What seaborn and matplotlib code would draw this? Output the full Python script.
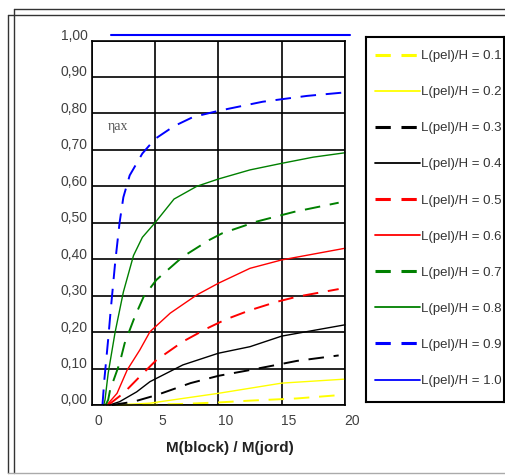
import numpy as np
import pandas as pd
import matplotlib
matplotlib.use("Agg")
import matplotlib.pyplot as plt
import matplotlib.transforms as mtransforms
from matplotlib.lines import Line2D
import seaborn as sns

# Data: eta vs M(block)/M(jord) for different L(pel)/H
x_01 = [2.0, 5.0, 7.2, 10.0, 12.5, 16.2, 19.5]
y_01 = [0.0, 0.001, 0.003, 0.007, 0.012, 0.018, 0.027]
x_02 = [1.8, 3.0, 4.6, 7.2, 10.0, 15.0, 20.0]
y_02 = [0.0, 0.002, 0.005, 0.018, 0.032, 0.060, 0.071]
x_03 = [1.6, 3.3, 5.1, 7.8, 10.0, 12.2, 14.6, 16.2, 19.5]
y_03 = [0.0, 0.009, 0.027, 0.060, 0.080, 0.094, 0.110, 0.121, 0.136]
x_04 = [1.4, 2.2, 3.55, 4.6, 7.2, 10.0, 12.5, 15.0, 20.0]
y_04 = [0.0, 0.009, 0.036, 0.064, 0.110, 0.142, 0.160, 0.189, 0.220]
x_05 = [1.3, 2.5, 3.8, 5.1, 7.2, 9.1, 10.6, 12.5, 14.6, 16.2, 19.5]
y_05 = [0.0, 0.032, 0.078, 0.123, 0.174, 0.210, 0.235, 0.260, 0.283, 0.297, 0.318]
x_06 = [1.2, 2.0, 2.8, 3.8, 4.6, 6.2, 8.3, 10.0, 12.5, 15.0, 20.0]
y_06 = [0.0, 0.032, 0.096, 0.151, 0.201, 0.252, 0.302, 0.334, 0.375, 0.398, 0.430]
x_07 = [1.1, 1.3, 1.45, 2.2, 2.6, 3.4, 4.1, 5.1, 7.2, 9.3, 10.3, 13.0, 16.0, 19.5]
y_07 = [0.0, 0.014, 0.041, 0.114, 0.169, 0.242, 0.297, 0.343, 0.407, 0.453, 0.471, 0.503, 0.530, 0.555]
x_08 = [0.95, 1.05, 1.3, 1.85, 2.5, 3.3, 4.0, 5.0, 6.5, 8.3, 10.0, 12.5, 15.0, 17.5, 20.0]
y_08 = [0.0, 0.014, 0.087, 0.200, 0.310, 0.410, 0.460, 0.500, 0.565, 0.600, 0.620, 0.645, 0.663, 0.680, 0.692]
x_09 = [0.85, 1.0, 1.3, 1.5, 1.85, 2.2, 2.5, 3.0, 4.0, 5.0, 6.5, 8.0, 10.0, 13.5, 17.0, 19.8]
y_09 = [0.0, 0.07, 0.18, 0.26, 0.39, 0.50, 0.57, 0.63, 0.69, 0.73, 0.765, 0.79, 0.807, 0.832, 0.848, 0.857]
x_10 = [1.5, 20.4]
y_10 = [1.015, 1.015]

series_x = [x_01, x_02, x_03, x_04, x_05, x_06, x_07, x_08, x_09, x_10]
series_y = [y_01, y_02, y_03, y_04, y_05, y_06, y_07, y_08, y_09, y_10]
labels = ["L(pel)/H = 0.1", "L(pel)/H = 0.2", "L(pel)/H = 0.3", "L(pel)/H = 0.4",
          "L(pel)/H = 0.5", "L(pel)/H = 0.6", "L(pel)/H = 0.7", "L(pel)/H = 0.8",
          "L(pel)/H = 0.9", "L(pel)/H = 1.0"]
colors = ["#ffff00", "#ffff00", "#000000", "#000000", "#ff0000", "#ff0000",
          "#008000", "#008000", "#0000ff", "#0000ff"]
dashed = [True, False] * 5

x_ticks = [0, 5, 10, 15, 20]
y_ticks = [0.0, 0.1, 0.2, 0.3, 0.4, 0.5, 0.6, 0.7, 0.8, 0.9, 1.0]
y_ticklabels = ["0,00", "0,10", "0,20", "0,30", "0,40", "0,50",
                "0,60", "0,70", "0,80", "0,90", "1,00"]

sns.set_style("white")
plt.rcParams['font.family'] = ['Liberation Sans', 'DejaVu Sans']

W, H = 506, 475
fig = plt.figure(figsize=(W / 100, H / 100), dpi=100)
ax = fig.add_axes([91.7 / W, 1 - 405 / H, (345 - 91.7) / W, (405 - 40.5) / H])

dash_style = (0, (8, 5))
for xs, ys, c, d in zip(series_x, series_y, colors, dashed):
    df = pd.DataFrame({"x": xs, "y": ys})
    sns.lineplot(data=df, x="x", y="y", ax=ax, color=c, estimator=None, sort=False,
                 linewidth=1.4 if d else 1.0,
                 linestyle=dash_style if d else "-", clip_on=False)
ax.lines[-1].set_linewidth(1.5)

ax.set_xlim(0, 20)
ax.set_ylim(0, 1.0)
ax.set_xticks(x_ticks)
ax.set_yticks(y_ticks)
ax.set_yticklabels(y_ticklabels)
ax.grid(True, color="black", linewidth=1.2)
for s in ax.spines.values():
    s.set_color("black")
    s.set_linewidth(1.2)
ax.tick_params(axis="both", direction="out", length=3.5, width=1.2, color="black",
               labelsize=10, labelcolor="#404040")
ax.tick_params(axis="y", pad=-0.5)
ax.tick_params(axis="x", pad=1)
ax.set_xlabel("")
ax.set_ylabel("")
ax.set_axisbelow(True)

# Excel style label offsets
for lab in ax.get_yticklabels():
    lab.set_transform(lab.get_transform() + mtransforms.ScaledTranslation(0, 6 / 100, fig.dpi_scale_trans))
for lab in ax.get_xticklabels():
    lab.set_transform(lab.get_transform() + mtransforms.ScaledTranslation(7 / 100, -3 / 100, fig.dpi_scale_trans))

ax.text(1.25, 0.765, "ηax", family=["Liberation Serif", "DejaVu Serif"], fontsize=10,
        color="#555555", va="center", ha="left")

fig.text(230 / W, 1 - 448 / H, "M(block) / M(jord)", fontsize=11, fontweight="bold",
         ha="center", va="center", color="#222222")

# legend box
lax = fig.add_axes([366 / W, 1 - 402 / H, 138 / W, (402 - 37) / H])
lax.set_xticks([])
lax.set_yticks([])
for s in lax.spines.values():
    s.set_color("black")
    s.set_linewidth(1.5)
handles = [Line2D([0], [0], color=c, linewidth=2.2 if d else 1.3,
                  linestyle=(0, (5, 3.5)) if d else "-")
           for c, d in zip(colors, dashed)]
lax.legend(handles, labels, loc="upper left", bbox_to_anchor=(0.0, 0.99), frameon=False,
           fontsize=9.5, labelspacing=1.81, handlelength=3.4, handletextpad=0.1,
           borderaxespad=0.3, labelcolor="#333333")

# outer frame lines
frame_kw = dict(color="#333333", linewidth=1.0, transform=fig.transFigure)
fig.add_artist(Line2D([14 / W, 1], [1 - 9 / H, 1 - 9 / H], **frame_kw))
fig.add_artist(Line2D([8 / W, 1], [1 - 15 / H, 1 - 15 / H], **frame_kw))
fig.add_artist(Line2D([14 / W, 14 / W], [1 - 9 / H, 1 - 473 / H], **frame_kw))
fig.add_artist(Line2D([8 / W, 8 / W], [1 - 15 / H, 1 - 473 / H], **frame_kw))
fig.add_artist(Line2D([8 / W, 1], [1 - 473 / H, 1 - 473 / H], color="#aaaaaa",
                      linewidth=1.0, transform=fig.transFigure))

fig.savefig("out.png", dpi=100)
